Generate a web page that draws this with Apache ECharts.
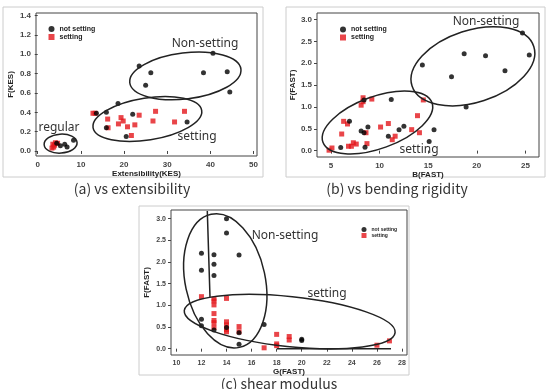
<!DOCTYPE html>
<html>
<head>
<meta charset="utf-8">
<script src="https://cdn.jsdelivr.net/npm/echarts@6/dist/echarts.min.js"></script>
<style>
  html, body { margin: 0; padding: 0; background: #fff; }
  #chart { width: 548px; height: 389px; }
</style>
</head>
<body>
<div id="chart"></div>
<script>
// (a) F(KES) vs extensibility
const kesNotSetting = [
  [23.5, 0.88], [26.2, 0.81], [25.0, 0.68], [40.6, 1.01], [38.4, 0.81], [43.9, 0.82], [44.5, 0.61],
  [18.6, 0.49], [15.9, 0.40], [13.6, 0.39], [22.0, 0.38], [34.6, 0.30], [20.5, 0.15], [15.9, 0.24],
  [8.3, 0.11], [6.25, 0.07], [6.8, 0.04], [5.25, 0.055], [4.4, 0.08]
];
const kesSetting = [
  [12.8, 0.39], [13.3, 0.39], [16.2, 0.33], [16.3, 0.24], [19.3, 0.345], [19.8, 0.31], [18.7, 0.28],
  [20.8, 0.25], [23.5, 0.37], [22.5, 0.27], [21.7, 0.16], [27.3, 0.41], [26.7, 0.31], [34.0, 0.41],
  [31.7, 0.30], [3.5, 0.07], [3.7, 0.04], [4.1, 0.085], [4.6, 0.08], [3.3, 0.03], [3.9, 0.06]
];
// (b) F(FAST) vs bending rigidity B(FAST)
const bendNotSetting = [
  [24.7, 2.69], [25.4, 2.19], [18.7, 2.22], [20.9, 2.17], [22.9, 1.83], [14.4, 1.96], [17.4, 1.69],
  [18.9, 1.00], [11.2, 1.17], [8.4, 1.16], [6.9, 0.67], [8.1, 0.45], [8.4, 0.41], [8.8, 0.54],
  [12.5, 0.56], [12.0, 0.48], [10.9, 0.33], [6.0, 0.07], [8.5, 0.08], [15.1, 0.21], [15.6, 0.48]
];
const bendSetting = [
  [4.8, 0.01], [5.1, 0.06], [6.1, 0.38], [6.3, 0.67], [6.7, 0.61], [6.8, 0.10], [7.1, 0.10],
  [7.3, 0.18], [7.6, 0.15], [8.1, 1.04], [8.3, 1.12], [8.3, 1.21], [9.2, 1.18], [8.6, 0.41],
  [8.7, 0.16], [10.1, 0.54], [10.9, 0.62], [11.6, 0.33], [11.3, 0.25], [13.3, 0.48], [13.9, 0.80],
  [14.1, 0.41], [14.5, 1.16]
];
// (c) F(FAST) vs shear modulus G(FAST)
const shearNotSetting = [
  [14, 3.0], [14, 2.67], [12, 2.20], [13, 2.17], [13, 1.95], [12, 1.81], [13, 1.69], [15, 2.16],
  [12, 0.68], [12, 0.53], [13, 0.43], [14, 0.49], [15, 0.37], [17, 0.56], [15, 0.10], [20, 0.22], [20, 0.19]
];
const shearSetting = [
  [12, 1.20], [13, 1.10], [13, 1.01], [13, 1.15], [14, 1.16], [13, 0.81], [13, 0.65], [13, 0.60],
  [13, 0.49], [14, 0.62], [14, 0.55], [14, 0.44], [14, 0.39], [15, 0.51], [15, 0.39], [17, 0.02],
  [18, 0.33], [18, 0.11], [18, 0.07], [19, 0.28], [19, 0.20], [26, 0.08], [27, 0.18]
];

// tick labels
const kesTicksX = [0, 10, 20, 30, 40, 50];
const kesTicksY = [0, 0.2, 0.4, 0.6, 0.8, 1.0, 1.2, 1.4];
const bendTicksX = [5, 10, 15, 20, 25];
const fastTicksY = [0, 0.5, 1.0, 1.5, 2.0, 2.5, 3.0];
const shearTicksX = [10, 12, 14, 16, 18, 20, 22, 24, 26, 28];

const BLACK = '#000';
const RED = '#e3161c';
const LABEL = '#444';

const chart = echarts.init(document.getElementById('chart'));

function xAxis(grid, min, max, ticks, name, gap, fs) {
  return {
    type: 'value', gridIndex: grid, min: min, max: max,
    splitLine: { show: false },
    axisLine: { show: false },
    axisTick: { show: true, length: 3, customValues: ticks, lineStyle: { color: LABEL } },
    axisLabel: { customValues: ticks, fontSize: fs, color: LABEL, margin: 5, fontWeight: 'bold', fontFamily: 'Liberation Sans' },
    name: name, nameLocation: 'middle', nameGap: gap,
    nameTextStyle: { fontSize: 8, fontWeight: 'bold', color: '#222', fontFamily: 'Liberation Sans' }
  };
}
function yAxis(grid, min, max, ticks, name, gap, fs) {
  return {
    type: 'value', gridIndex: grid, min: min, max: max,
    splitLine: { show: false },
    axisLine: { show: false },
    axisTick: { show: true, length: 3, customValues: ticks, lineStyle: { color: LABEL } },
    axisLabel: { customValues: ticks, fontSize: fs, color: LABEL, margin: 5, fontWeight: 'bold',
      fontFamily: 'Liberation Sans', formatter: v => v.toFixed(1) },
    name: name, nameLocation: 'middle', nameGap: gap, nameRotate: 90,
    nameTextStyle: { fontSize: 8, fontWeight: 'bold', color: '#222', fontFamily: 'Liberation Sans' }
  };
}
function scatter(name, grid, data, color, symbol) {
  return {
    name: name, type: 'scatter', xAxisIndex: grid, yAxisIndex: grid,
    data: data, symbol: symbol, symbolSize: 5,
    itemStyle: { color: color }, silent: true
  };
}
function legend(left, top, size, fs) {
  return {
    left: left, top: top, orient: 'vertical', itemGap: 1,
    itemWidth: size, itemHeight: size, itemStyle: { borderWidth: 0 },
    data: [{ name: 'not setting', icon: 'circle' }, { name: 'setting', icon: 'rect' }],
    textStyle: { fontSize: fs, fontWeight: 'bold', color: '#222', padding: 0, fontFamily: 'Liberation Sans' },
    selectedMode: false
  };
}

const gridStyle = { show: true, borderColor: '#444', borderWidth: 1, backgroundColor: '#fff' };

chart.setOption({
  animation: false,
  backgroundColor: '#fff',
  grid: [
    Object.assign({ left: 36, top: 13, width: 221, height: 143 }, gridStyle),
    Object.assign({ left: 317, top: 13, width: 222, height: 144 }, gridStyle),
    Object.assign({ left: 171, top: 210, width: 236, height: 145 }, gridStyle)
  ],
  xAxis: [
    xAxis(0, -0.4, 50.8, kesTicksX, 'Extensibility(KES)', 11, 8),
    xAxis(1, 3.56, 26.4, bendTicksX, 'B(FAST)', 11, 8),
    xAxis(2, 9.57, 28.4, shearTicksX, 'G(FAST)', 10, 7)
  ],
  yAxis: [
    yAxis(0, -0.052, 1.427, kesTicksY, 'F(KES)', 21, 8),
    yAxis(1, -0.146, 3.15, fastTicksY, 'F(FAST)', 19, 8),
    yAxis(2, -0.146, 3.2, fastTicksY, 'F(FAST)', 20, 7)
  ],
  legend: [
    legend(43.5, 20.5, 6, 7),
    legend(335, 21, 6, 7),
    legend(356.5, 222, 5, 5)
  ],
  series: [
    scatter('setting', 0, kesSetting, RED, 'rect'),
    scatter('not setting', 0, kesNotSetting, BLACK, 'circle'),
    scatter('setting', 1, bendSetting, RED, 'rect'),
    scatter('not setting', 1, bendNotSetting, BLACK, 'circle'),
    scatter('setting', 2, shearSetting, RED, 'rect'),
    scatter('not setting', 2, shearNotSetting, BLACK, 'circle')
  ]
});

// annotation ellipses: centre in data units, radii in px, rotation in degrees (anticlockwise)
const ellipses = [
  { grid: 0, c: [34.2, 0.776], rx: 56, ry: 23, rot: 7 },
  { grid: 0, c: [25.4, 0.331], rx: 55, ry: 21, rot: 9 },
  { grid: 0, c: [5.3, 0.076], rx: 16.5, ry: 9.5, rot: 4 },
  { grid: 1, c: [19.6, 1.93], rx: 64, ry: 36, rot: 18 },
  { grid: 1, c: [9.78, 0.645], rx: 58, ry: 26, rot: 20 },
  { grid: 2, c: [13.9, 1.565], rx: 40, ry: 68, rot: 12 },
  { grid: 2, c: [19.04, 0.625], rx: 106, ry: 25, rot: -6 }
];

const graphic = [];
ellipses.forEach(e => {
  const p = chart.convertToPixel({ gridIndex: e.grid }, e.c);
  graphic.push({
    type: 'ellipse', x: p[0], y: p[1], rotation: e.rot * Math.PI / 180, silent: true, z: 50,
    shape: { cx: 0, cy: 0, rx: e.rx, ry: e.ry },
    style: { fill: 'none', stroke: '#222', lineWidth: 1.5 }
  });
});

// extra strokes in panel (c)
graphic.push({ type: 'line', silent: true, z: 50, shape: { x1: 207.3, y1: 211, x2: 210, y2: 297 },
  style: { stroke: '#222', lineWidth: 1.5 } });
graphic.push({ type: 'line', silent: true, z: 50, shape: { x1: 277, y1: 348.7, x2: 391, y2: 348.7 },
  style: { stroke: '#222', lineWidth: 1.5 } });

function note(text, x, y, fs) {
  return { type: 'text', x: x, y: y, silent: true, z: 60,
    style: { text: text, fontSize: fs, fill: '#333', align: 'center', verticalAlign: 'middle', fontFamily: 'Noto Sans' } };
}
graphic.push(note('Non-setting', 205, 44, 12));
graphic.push(note('setting', 197, 137, 12));
graphic.push(note('regular', 59, 128, 12));
graphic.push(note('Non-setting', 486, 22, 12));
graphic.push(note('setting', 419, 150, 12));
graphic.push(note('Non-setting', 285, 236, 12));
graphic.push(note('setting', 327, 294, 12));

// outer frames of the three panels
[[3, 7, 260, 170], [286, 7, 259, 170], [139, 206, 270, 169]].forEach(r => {
  graphic.push({ type: 'rect', silent: true, z: 0, shape: { x: r[0], y: r[1], width: r[2], height: r[3] },
    style: { fill: 'none', stroke: '#ccc', lineWidth: 1 } });
});

function caption(text, x, y) {
  return { type: 'text', x: x, y: y, silent: true,
    style: { text: text, fontSize: 14, fill: '#333', align: 'center', verticalAlign: 'middle', fontFamily: 'Noto Sans CJK KR' } };
}
graphic.push(caption('(a) vs extensibility', 132, 189));
graphic.push(caption('(b) vs bending rigidity', 397, 189));
graphic.push(caption('(c) shear modulus', 279, 384));

chart.setOption({ graphic: graphic });
</script>
</body>
</html>
